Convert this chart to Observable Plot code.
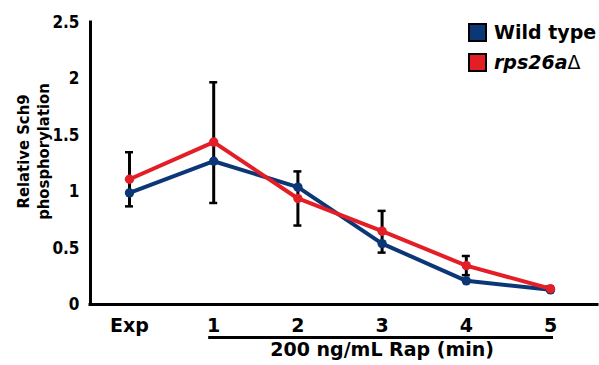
<!DOCTYPE html>
<html><head><meta charset="utf-8">
<script src="https://cdn.jsdelivr.net/npm/d3@7"></script>
<script src="https://cdn.jsdelivr.net/npm/@observablehq/plot@0.6"></script>
<style>
body{margin:0;background:#fff;}
#wrap{position:relative;width:599px;height:365px;}
#wrap svg{position:absolute;left:0;top:0;}
.cond{font-stretch:condensed;}
.legend{position:absolute;left:468px;top:22px;font-family:"DejaVu Sans",sans-serif;font-weight:bold;font-size:19px;color:#000;}
.item{display:flex;align-items:center;height:20px;margin-bottom:10px;white-space:nowrap;}
.sw{width:15px;height:15px;border:2.5px solid #000;margin-right:7px;flex:none;}
.delta{font-weight:normal;font-style:normal;}
</style></head>
<body><div id="wrap"></div>
<script>
const categories = ["Exp", "1", "2", "3", "4", "5"];
const wildType = [0.99, 1.27, 1.04, 0.54, 0.21, 0.13];
const rps26a = [1.11, 1.44, 0.94, 0.65, 0.345, 0.14];
const errLow = [0.87, 0.90, 0.70, 0.46, 0.26, 0.12];
const errHigh = [1.35, 1.97, 1.18, 0.83, 0.43, 0.16];
const yTicks = [0, 0.5, 1, 1.5, 2, 2.5];
const yTickLabels = ["0", "0.5", "1", "1.5", "2", "2.5"];
const seriesNames = ["Wild type", "rps26aΔ"];
const colors = ["#0c3776", "#e31e26"];
const bracketFrom = "1", bracketTo = "5";
const xTitle = "200 ng/mL Rap (min)";
const yTitle = "Relative Sch9\nphosphorylation";

const xDomain = [-0.463, 5.558];
const rows = categories.map((c, i) => ({i, c, lo: errLow[i], hi: errHigh[i]}));
const long = seriesNames.flatMap((s, k) =>
  categories.map((c, i) => ({i, series: s, v: (k === 0 ? wildType : rps26a)[i]})));
const b0 = categories.indexOf(bracketFrom), b1 = categories.indexOf(bracketTo);

const sans = "Arial, Liberation Sans, sans-serif";
const wide = "DejaVu Sans, sans-serif";
const cond = "DejaVu Sans Condensed, DejaVu Sans, sans-serif";

const plot = Plot.plot({
  width: 599, height: 365,
  marginLeft: 90, marginRight: 2, marginTop: 22, marginBottom: 61,
  style: {background: "transparent", fontFamily: sans, overflow: "visible", color: "#000"},
  x: {domain: xDomain, axis: null},
  y: {domain: [0, 2.5], axis: null},
  color: {domain: seriesNames, range: colors},
  marks: [
    Plot.text(yTicks, {x: () => xDomain[0], y: d => d, text: d => yTickLabels[yTicks.indexOf(d)],
      textAnchor: "end", dx: -11, fontSize: 17, fontWeight: "bold", fontFamily: cond, className: "cond"}),
    Plot.text(categories, {x: (c, i) => i, y: () => 0, text: d => d, dy: 21,
      fontSize: 19, fontWeight: "bold", fontFamily: wide}),
    Plot.ruleY([0], {stroke: "#000", strokeWidth: 3, strokeLinecap: "square"}),
    Plot.ruleX([xDomain[0]], {y1: 0, y2: 2.5, stroke: "#000", strokeWidth: 3, strokeLinecap: "square"}),
    Plot.ruleX(rows, {x: "i", y1: "lo", y2: "hi", stroke: "#000", strokeWidth: 3}),
    Plot.ruleY(rows, {x1: "i", x2: "i", y: "hi", insetLeft: -4, insetRight: -4, stroke: "#000", strokeWidth: 2.5}),
    Plot.ruleY(rows, {x1: "i", x2: "i", y: "lo", insetLeft: -4, insetRight: -4, stroke: "#000", strokeWidth: 2.5}),
    Plot.line(long, {x: "i", y: "v", stroke: "series", strokeWidth: 4}),
    Plot.dot(long, {x: "i", y: "v", fill: "series", r: 4.7}),
    Plot.ruleY([{from: b0, to: b1}], {x1: "from", x2: "to", y: () => 0, dy: 33,
      insetLeft: -5, insetRight: -3, stroke: "#000", strokeWidth: 3}),
    Plot.text([xTitle], {x: () => (b0 + b1) / 2, y: () => 0, dy: 45, text: d => d,
      fontFamily: wide, fontWeight: "bold", fontSize: 19}),
    Plot.text([yTitle], {frameAnchor: "left", dx: -58, dy: -12, rotate: -90, text: d => d,
      textAnchor: "middle", fontFamily: cond, className: "cond", fontWeight: "bold", fontSize: 16.5, lineHeight: 1.2})
  ]
});

const wrap = document.getElementById("wrap");
wrap.appendChild(plot);
const legend = document.createElement("div");
legend.className = "legend";
legend.innerHTML = seriesNames.map((s, k) => {
  const label = s.endsWith("Δ")
    ? `<i>${s.slice(0, -1)}</i><span class="delta">Δ</span>` : s;
  return `<div class="item"><span class="sw" style="background:${colors[k]}"></span><span>${label}</span></div>`;
}).join("");
wrap.appendChild(legend);
</script>
</body></html>
